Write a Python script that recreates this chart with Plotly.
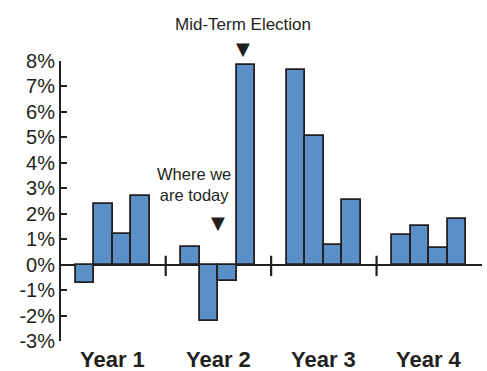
import plotly.graph_objects as go

# ---- data ----
years = ["Year 1", "Year 2", "Year 3", "Year 4"]
quarters = ["Q1", "Q2", "Q3", "Q4"]
returns_y1 = [-0.71, 2.38, 1.20, 2.70]
returns_y2 = [0.69, -2.21, -0.63, 7.85]
returns_y3 = [7.65, 5.07, 0.77, 2.55]
returns_y4 = [1.15, 1.50, 0.66, 1.80]
all_returns = [returns_y1, returns_y2, returns_y3, returns_y4]
y_tick_values = list(range(-3, 9))
y_tick_labels = [f"{v}%" for v in y_tick_values]

# ---- layout helpers ----
PITCH = 5.7  # group spacing in bar widths
BAR_FILL = "#5a8fc8"
INK = "#231f20"
FONT = "Liberation Sans, Arial, sans-serif"

xs, ys = [], []
for g, vals in enumerate(all_returns):
    for q, v in enumerate(vals):
        xs.append(g * PITCH + q)
        ys.append(v)

fig = go.Figure()
fig.add_trace(go.Bar(
    x=xs, y=ys, width=1.0,
    marker=dict(color=BAR_FILL, line=dict(color=INK, width=1.8)),
    showlegend=False, hoverinfo="skip",
))

mid_x = 1 * PITCH + 2.85
today_x = 1 * PITCH + 1.5

shapes = []
for g in range(len(years) - 1):
    sx = g * PITCH + 3.5 + (PITCH - 4) / 2
    shapes.append(dict(type="line", xref="x", yref="y", x0=sx, x1=sx,
                       y0=-0.45, y1=0.35, line=dict(color=INK, width=2.2)))

annotations = []
for g, name in enumerate(years):
    annotations.append(dict(
        x=g * PITCH + 1.5, xref="x", y=0, yref="paper", yshift=-18,
        text=f"<b>{name}</b>", showarrow=False, xanchor="center", yanchor="middle",
        font=dict(family=FONT, size=22, color=INK),
    ))
annotations.append(dict(
    x=mid_x, xref="x", y=1, yref="paper", yshift=37,
    text="Mid-Term Election", showarrow=False, xanchor="center", yanchor="middle",
    font=dict(family=FONT, size=17, color=INK),
))
annotations.append(dict(
    x=today_x - 1.3, xref="x", y=3.14, yref="y",
    text="Where we<br>are today", showarrow=False, xanchor="center", yanchor="middle",
    font=dict(family=FONT, size=16.5, color=INK),
))
# pointer triangles
annotations.append(dict(
    x=mid_x, xref="x", y=1, yref="paper", yshift=13, text="▼", showarrow=False,
    xanchor="center", yanchor="middle",
    font=dict(family="DejaVu Sans", size=18, color=INK),
))
annotations.append(dict(
    x=today_x, xref="x", y=1.65, yref="y", text="▼", showarrow=False,
    xanchor="center", yanchor="middle",
    font=dict(family="DejaVu Sans", size=18, color=INK),
))

fig.update_layout(
    width=487, height=371,
    margin=dict(l=61, r=5, t=61, b=30),
    paper_bgcolor="white", plot_bgcolor="white",
    bargap=0,
    shapes=shapes, annotations=annotations,
    xaxis=dict(range=[-1.31, 21.45], showgrid=False, zeroline=False,
               showline=False, showticklabels=False, ticks=""),
    yaxis=dict(range=[-3, 8], tickvals=y_tick_values, ticktext=y_tick_labels,
               showgrid=False, zeroline=True, zerolinecolor=INK, zerolinewidth=2,
               showline=True, linecolor=INK, linewidth=2,
               ticks="inside", ticklen=6, tickwidth=2, tickcolor=INK,
               tickfont=dict(family=FONT, size=20, color=INK)),
)

fig.write_html("out.html")
